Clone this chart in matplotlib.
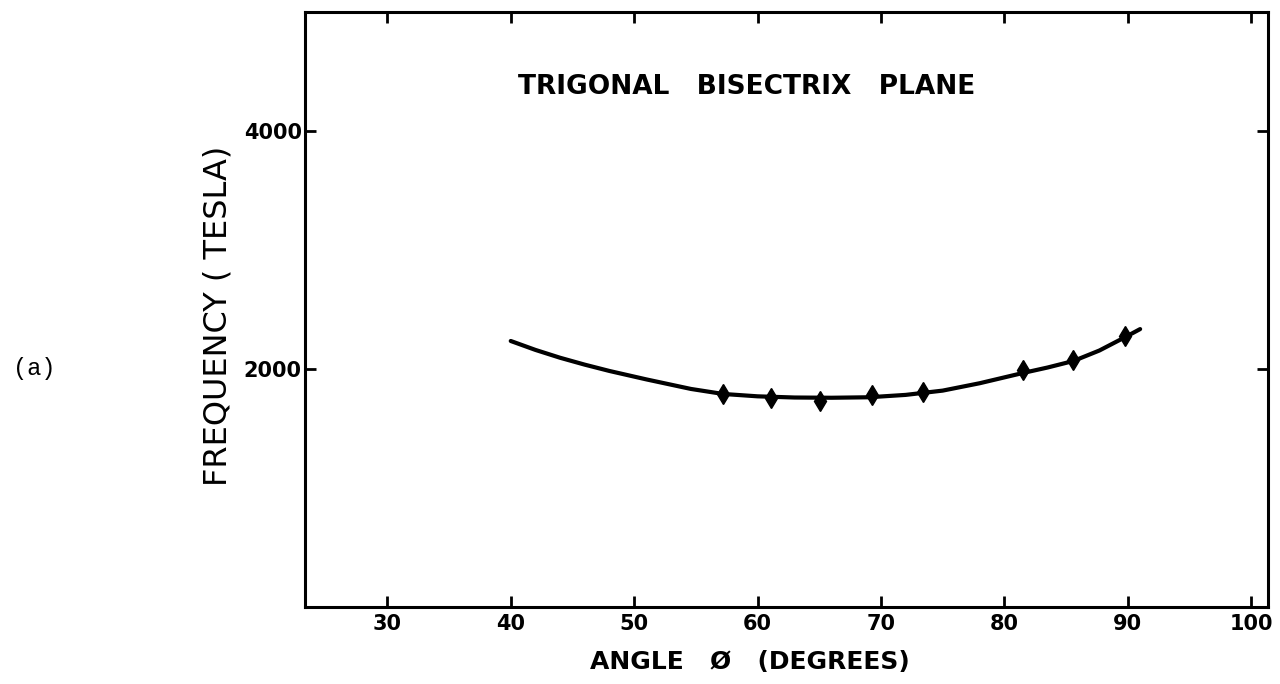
import matplotlib
matplotlib.use('Agg')
import matplotlib.pyplot as plt

# measured points (angle in degrees, frequency in tesla)
angle = [57.2, 61.1, 65.1, 69.3, 73.4, 81.5, 85.6, 89.8]
freq = [1790, 1757, 1732, 1782, 1808, 1992, 2075, 2276]

# hand drawn fit curve
curve_angle = [40, 42, 44, 46, 48, 51, 54.6, 57.2, 60, 63, 66, 69, 72, 75, 78, 81.5, 83.5, 85.6, 87.7, 89.8, 91]
curve_freq = [2235, 2160, 2094, 2036, 1983, 1912, 1832, 1790, 1770, 1760, 1758, 1762, 1782, 1818, 1880, 1966, 2012, 2067, 2155, 2268, 2335]

x_ticks = [30, 40, 50, 60, 70, 80, 90, 100]
y_ticks = [2000, 4000]

plt.rcParams['font.family'] = ['DejaVu Sans']
fig = plt.figure(figsize=(12.8, 6.84), dpi=100)
ax = fig.add_axes([0.238, 0.1126, 0.753, 0.870])

ax.plot(curve_angle, curve_freq, color='black', linewidth=3, solid_capstyle='round')
ax.plot(angle, freq, linestyle='none', marker='d', markersize=10, color='black')

ax.set_xlim(23.3, 101.4)
ax.set_ylim(0, 5000)
ax.set_xticks(x_ticks)
ax.set_yticks(y_ticks)
ax.tick_params(direction='in', length=8, width=2, top=True, right=True,
               labelsize=15, pad=5)
ax.tick_params(axis='y', pad=2)
for lab in ax.get_xticklabels() + ax.get_yticklabels():
    lab.set_fontweight('bold')
for s in ax.spines.values():
    s.set_linewidth(2.2)

ax.set_xlabel('ANGLE   Ø   (DEGREES)', fontsize=18, fontweight='bold')
ax.xaxis.set_label_coords(0.462, -0.072)
ax.set_ylabel('FREQUENCY ( TESLA)', fontsize=23)
ax.yaxis.set_label_coords(-0.074, 0.49)

ax.text(59.1, 4370, 'TRIGONAL   BISECTRIX   PLANE', fontsize=19, fontweight='bold',
        ha='center', va='center')

fig.text(0.027, 1 - 368 / 684, '(a)', family='Liberation Mono', fontsize=17,
         ha='center', va='center')

fig.savefig('out.png', dpi=100)
